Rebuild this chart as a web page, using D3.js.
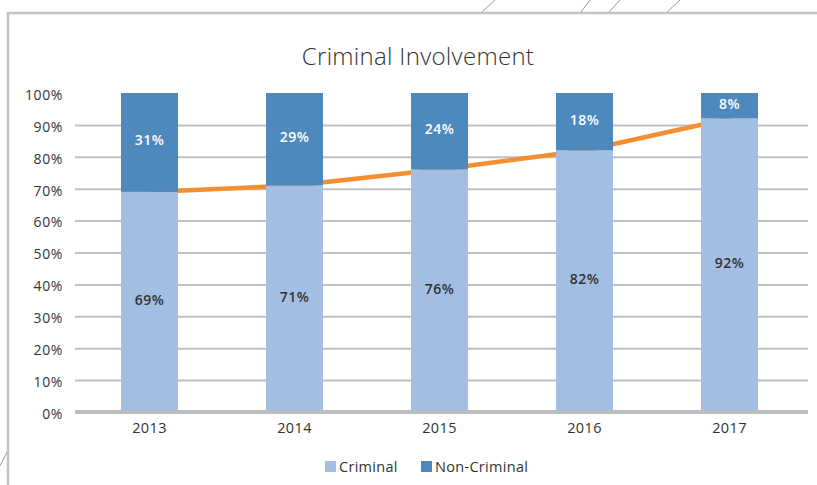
<!DOCTYPE html>
<html><head><meta charset="utf-8">
<script src="https://cdn.jsdelivr.net/npm/d3@7"></script>
<style>
body{margin:0;background:#fff;}
svg{display:block;font-family:"Open Sans","Lato",sans-serif;}
</style></head>
<body><svg id="c" width="817" height="485"></svg>
<script>
const years = ["2013","2014","2015","2016","2017"];
const criminal = [69, 71, 76, 82, 92];
const nonCriminal = [31, 29, 24, 18, 8];
const trend = [69, 71, 76, 82, 92];
const yTicks = [0,10,20,30,40,50,60,70,80,90,100];
const seriesNames = ["Criminal","Non-Criminal"];
const colors = {"Criminal":"#a2bee3","Non-Criminal":"#4e89be"};

const svg = d3.select("#c");
const FONT = "'Open Sans', sans-serif";

// frame decorations
const frame = svg.append("g").attr("stroke","#c4c4c6").attr("fill","none");
frame.append("path").attr("d","M8,485 L8,13 L817,13").attr("stroke-width",2.5);
const diag = [[482,495],[581,590],[609,620],[667,680]];
diag.forEach(d=>frame.append("line").attr("x1",d[0]).attr("y1",12).attr("x2",d[1]).attr("y2",0).attr("stroke-width",1).attr("stroke","#9a9a9a"));
frame.append("line").attr("x1",0).attr("y1",466).attr("x2",7).attr("y2",452).attr("stroke-width",1).attr("stroke","#9a9a9a");

const x = d3.scaleBand().domain(years).range([77,802]).paddingInner(0.607).paddingOuter(0.3035);
const y = d3.scaleLinear().domain([0,100]).range([412,93]);

// gridlines
const grid = svg.append("g").attr("transform","translate(75,0)")
  .call(d3.axisLeft(y).tickValues(yTicks.filter(v=>v>0 && v<100)).tickSize(-733).tickFormat(""));
grid.select(".domain").remove();
grid.selectAll("line").attr("stroke","#bfbfc3").attr("stroke-width",2);

// y labels
const ya = svg.append("g").attr("transform","translate(63,0)")
  .call(d3.axisLeft(y).tickValues(yTicks).tickSize(0).tickPadding(0).tickFormat(d=>d+"%"));
ya.select(".domain").remove();
ya.selectAll("text").attr("font-size",14).attr("fill","#333").attr("font-family",FONT)
  .attr("letter-spacing","0.6px").attr("dy","0.45em");

// trend line (behind bars)
const line = d3.line().x((d,i)=>x(years[i])+x.bandwidth()/2).y(d=>y(d));
svg.append("path").datum(trend).attr("d",line).attr("fill","none")
  .attr("stroke","#f38f2f").attr("stroke-width",4.5);

// stacked bars
const rows = years.map((yr,i)=>({year:yr,"Criminal":criminal[i],"Non-Criminal":nonCriminal[i]}));
const stack = d3.stack().keys(seriesNames)(rows);
const bars = svg.append("g");
stack.forEach(layer=>{
  bars.append("g").attr("fill",colors[layer.key]).selectAll("rect").data(layer).join("rect")
    .attr("x",d=>x(d.data.year)).attr("width",x.bandwidth())
    .attr("y",d=>y(d[1])).attr("height",d=>y(d[0])-y(d[1]));
});

// axis baseline
const xa = svg.append("g").attr("transform","translate(0,412)")
  .call(d3.axisBottom(x).tickSize(0).tickPadding(11));
xa.select(".domain").remove();
svg.append("line").attr("x1",75).attr("x2",808).attr("y1",412).attr("y2",412).attr("stroke","#bdbdc0").attr("stroke-width",4);
xa.selectAll("text").attr("font-size",14.5).attr("fill","#333").attr("font-family",FONT).attr("letter-spacing","0.4px");

// value labels
stack.forEach(layer=>{
  svg.append("g").selectAll("text").data(layer).join("text")
    .attr("x",d=>x(d.data.year)+x.bandwidth()/2)
    .attr("y",d=>(y(d[0])+y(d[1]))/2 - 2)
    .attr("dy","0.35em").attr("text-anchor","middle")
    .attr("font-size",14).attr("font-weight",600).attr("letter-spacing","0.4px")
    .attr("fill",layer.key==="Criminal"?"#333":"#fff")
    .text(d=>(d[1]-d[0])+"%");
});

// title
svg.append("text").attr("x",418).attr("y",65).attr("text-anchor","middle")
  .attr("font-size",24).attr("font-weight",300).attr("letter-spacing","0.3px").attr("fill","#333").text("Criminal Involvement");

// legend
const leg = svg.append("g");
const legItems = [{k:"Criminal",x:325},{k:"Non-Criminal",x:421}];
legItems.forEach(it=>{
  leg.append("rect").attr("x",it.x).attr("y",461).attr("width",11).attr("height",11).attr("fill",colors[it.k]);
  leg.append("text").attr("x",it.x+14).attr("y",467).attr("dy","0.35em").attr("font-size",14.5).attr("letter-spacing","0.3px").attr("fill","#333").text(it.k);
});
</script></body></html>
